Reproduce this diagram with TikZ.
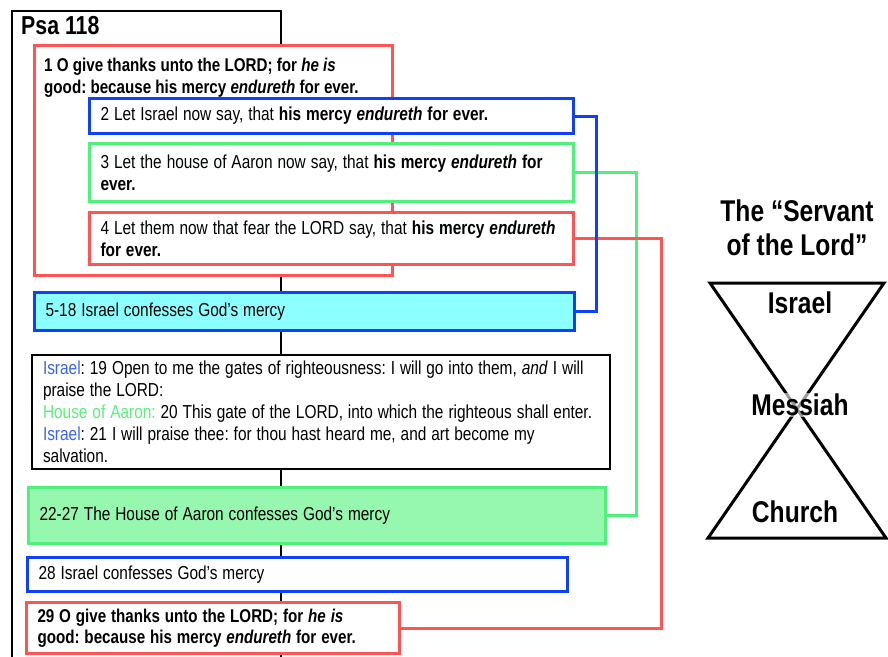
\documentclass[tikz,border=0pt]{standalone}
\usepackage{fontspec}
\setmainfont{Liberation Sans}[FakeStretch=0.82]
\usepackage{tikz}
\usetikzlibrary{positioning}
\frenchspacing
\hyphenpenalty=10000

\definecolor{vred}{RGB}{255,84,84}
\definecolor{vblue}{RGB}{16,64,250}
\definecolor{vgreen}{RGB}{80,240,124}
\definecolor{vcyan}{RGB}{140,255,255}
\definecolor{vmint}{RGB}{150,248,174}
\definecolor{lblue}{RGB}{60,100,240}
\definecolor{lgreen}{RGB}{90,240,122}

\newcommand{\bodyfont}{\fontsize{18.8}{22}\selectfont}
\newcommand{\boldfont}{\fontsize{18.5}{21.5}\selectfont\bfseries}
\newcommand{\bigfont}{\fontsize{30}{34}\selectfont\bfseries}

\tikzstyle{verse} = [rectangle, draw, line width=3pt, fill=white, anchor=north west, align=left, inner xsep=11pt, inner ysep=0pt, font=\bodyfont, execute at begin node={\spaceskip=0.263em\xspaceskip=0.263em}]
\tikzstyle{link} = [line width=3pt]
\tikzstyle{hglabel} = [font=\bigfont, inner sep=1pt]

\begin{document}
\begin{tikzpicture}[x=1pt, y=-1pt]
   \useasboundingbox (0,0) rectangle (888,656);

   % Draw the page frame of the psalm
   \draw[line width=1.5pt] (12,670) -- (12,11) -- (281,11) -- (281,670);
   \node[anchor=north west, font=\fontsize{26}{28}\selectfont\bfseries, inner sep=0pt] (psa) at (21,16) {Psa 118};

   % Verses 1-4
   \node[verse, draw=vred, minimum width=358pt, minimum height=230pt, text width=336pt] (v1) at (33,44) {};
   \node[anchor=north west, align=left, inner sep=0pt, font=\boldfont] (t1) at (44,58)
      {1 O give thanks unto the LORD; for \textit{he is}\\good: because his mercy \textit{endureth} for ever.};
   \node[verse, draw=vblue, minimum width=484pt, minimum height=35pt, text width=462pt] (v2) at (88,97)
      {2 Let Israel now say, that \textbf{his mercy \textit{endureth} for ever.}};
   \node[verse, draw=vgreen, minimum width=484pt, minimum height=58pt, text width=462pt] (v3) at (88,142)
      {3 Let the house of Aaron now say, that \textbf{his mercy \textit{endureth} for\\ever.}};
   \node[verse, draw=vred, minimum width=484pt, minimum height=52pt, text width=462pt] (v4) at (88,211)
      {4 Let them now that fear the LORD say, that \textbf{his mercy \textit{endureth}\\for ever.}};

   % Verses 5-29
   \node[verse, draw=vblue, fill=vcyan, minimum width=540pt, minimum height=38pt, text width=518pt] (v5) at (33,291)
      {5-18 Israel confesses God's mercy};
   \node[verse, draw=black, line width=2pt, minimum width=578pt, minimum height=114pt, text width=556pt] (v19) at (31,354)
      {\textcolor{lblue}{Israel}: 19 Open to me the gates of righteousness: I will go into them, \textit{and} I will\\
       praise the LORD:\\
       \textcolor{lgreen}{House of Aaron:} 20 This gate of the LORD, into which the righteous shall enter.\\
       \textcolor{lblue}{Israel}: 21 I will praise thee: for thou hast heard me, and art become my\\
       salvation.};
   \node[verse, draw=vgreen, fill=vmint, minimum width=577pt, minimum height=56pt, text width=555pt] (v22) at (27,486)
      {22-27 The House of Aaron confesses God's mercy};
   \node[verse, draw=vblue, minimum width=540pt, minimum height=34pt, text width=518pt] (v28) at (26,556)
      {28 Israel confesses God's mercy};
   \node[verse, draw=vred, minimum width=373pt, minimum height=51pt, text width=351pt, font=\boldfont] (v29) at (25,601)
      {29 O give thanks unto the LORD; for \textit{he is}\\good: because his mercy \textit{endureth} for ever.};

   % Connectors between the matching verses
   \draw[link, vgreen] (v3.east) -- ++(61,0) |- (v22.east);
   \draw[link, vred] (v4.east) -- ++(86,0) |- (v29.east);
   \draw[link, vblue] (v2.east) -- ++(21,0) |- (v5.east);

   % The servant hourglass
   \node[font=\bigfont, align=center, inner sep=0pt] (title) at (797,228) {The “Servant\\of the Lord”};
   \coordinate (tl) at (710,283);
   \coordinate (tr) at (884,283);
   \coordinate (bl) at (708,538);
   \coordinate (br) at (886,538);
   \draw[line width=3pt, line join=miter] (tl) -- (tr) -- (bl) -- (br) -- cycle;
   \node[hglabel] (israel) at (800,303) {Israel};
   \node[hglabel, fill=white, fill opacity=0.6, text opacity=1] (messiah) at (800,405) {Messiah};
   \node[hglabel] (church) at (795,512) {Church};

\end{tikzpicture}
\end{document}
